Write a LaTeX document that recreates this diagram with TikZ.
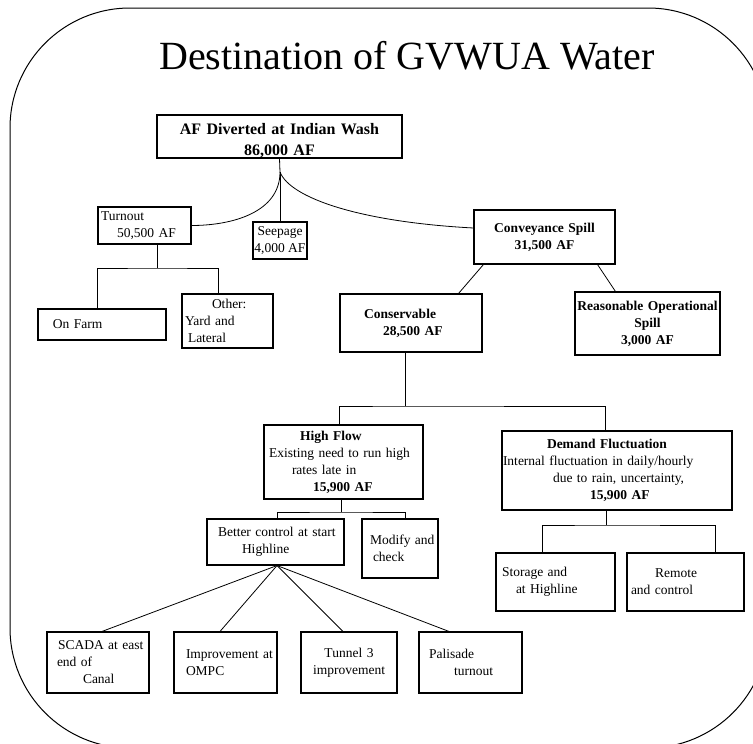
\documentclass[tikz,border=0pt]{standalone}
\usepackage{fontspec}
\setmainfont{Liberation Serif}

\tikzset{
	box/.style={draw, rectangle, line width=1.1pt, inner xsep=3pt, inner ysep=0pt, align=left, font=\fontsize{13.5}{17}\selectfont},
	boxc/.style={box, align=center},
	bbox/.style={box, font=\fontsize{13.5}{17}\selectfont\bfseries},
	link/.style={draw, line width=0.8pt},
	frame/.style={draw, line width=1pt, rounded corners=120pt}
}

\begin{document}
\begin{tikzpicture}[x=1pt,y=-1pt]
	\useasboundingbox (0,0) rectangle (753,744);
	\begin{scope}
		\clip (0,0) rectangle (753,744);
		\path[frame] (10,8) rectangle (768,748);
	\end{scope}
	
	\node[font=\fontsize{40}{48}\selectfont] (title) at (407,56) {Destination of GVWUA Water};
	
	% level 0
	\node[bbox, align=center, font=\fontsize{16}{21}\selectfont\bfseries, text width=239pt, minimum height=43pt] (top) at (279.5,136.5) {\rule{0pt}{19pt}AF Diverted at Indian Wash\\86,000 AF};
	
	% level 1
	\node[box, text width=87pt, minimum height=37pt] (turn) at (144.5,225.5) {Turnout\\\hspace*{16pt}50,500 AF};
	\node[boxc, inner xsep=1pt, minimum width=54pt, minimum height=37pt] (seep) at (280,240.5) {Seepage\\4,000 AF};
	\node[bbox, align=center, text width=135pt, minimum height=54pt] (conv) at (544.5,237) {Conveyance Spill\\31,500 AF};
	
	% level 2
	\node[box, text width=122pt, minimum height=31pt] (farm) at (102,324.5) {\hspace*{12pt}On Farm};
	\node[box, text width=85pt, minimum height=54pt] (other) at (227.5,321) {\hspace*{27pt}Other:\\Yard and\\\hspace*{3pt}Lateral};
	\node[bbox, text width=136pt, minimum height=58pt] (cons) at (411,323) {\hspace*{21pt}Conservable\\\hspace*{40pt}28,500 AF};
	\node[bbox, align=center, inner xsep=2pt, text width=141pt, minimum height=63pt] (rs) at (647.5,323.5) {Reasonable Operational\\Spill\\3,000 AF};
	
	% level 3
	\node[box, text width=153pt, minimum height=74pt] (hf) at (343.5,462) {\hspace*{33pt}\textbf{High Flow}\\\hspace*{2pt}Existing need to run high\\\hspace*{25pt}rates late in\\\hspace*{46pt}\textbf{15,900 AF}};
	\node[box, inner xsep=1pt, text width=228pt, minimum height=79pt] (df) at (617,470.5) {\hspace*{44pt}\textbf{Demand Fluctuation}\\Internal fluctuation in daily/hourly\\\hspace*{50pt}due to rain, uncertainty,\\\hspace*{87pt}\textbf{15,900 AF}};
	
	% level 4
	\node[box, text width=131pt, minimum height=46pt] (better) at (275.5,542) {\hspace*{8pt}Better control at start\\\hspace*{32pt}Highline};
	\node[box, text width=70pt, minimum height=59pt] (mod) at (400,548.5) {\hspace*{5pt}Modify and\\\hspace*{8pt}check};
	\node[box, text width=113pt, minimum height=58pt] (stor) at (555.5,582) {\hspace*{3pt}Storage and\\\hspace*{17pt}at Highline};
	\node[box, text width=111pt, minimum height=58pt] (rem) at (685.5,582) {\hspace*{25pt}Remote\\\hspace*{1pt}and control};
	
	% level 5
	\node[box, text width=96pt, minimum height=61pt] (scada) at (98,662.5) {\hspace*{8pt}SCADA at east\\\hspace*{7pt}end of\\\hspace*{33pt}Canal};
	\node[box, text width=97pt, minimum height=61pt] (impr) at (225.5,662.5) {\hspace*{9pt}Improvement at\\\hspace*{9pt}OMPC};
	\node[boxc, text width=90pt, minimum height=61pt] (tun) at (349,662.5) {Tunnel 3\\improvement};
	\node[box, text width=97pt, minimum height=61pt] (pal) at (470.5,662.5) {\hspace*{7pt}Palisade\\\hspace*{32pt}turnout};
	
	% branches
	\coordinate (split) at (280,172);
	\coordinate (tb) at (157,268);
	\coordinate (cb) at (405,406);
	\coordinate (hb) at (341,512);
	\coordinate (db) at (606,525);
	
	\path[link] (top.south) -- (split);
	\path[link] (split) to[out=-90,in=0] (turn.east);
	\path[link] (split) -- (seep.north);
	\path[link] (split) .. controls (290,198) and (360,222) .. ([yshift=9pt]conv.west);
	
	\path[link] ([xshift=12.5pt]turn.south) -- (tb);
	\path[link] ([xshift=-5pt]farm.north) |- (tb) -| ([xshift=-9.5pt]other.north);
	
	\path[link] ([xshift=10pt]conv.south west) -- ([xshift=-24pt]cons.north east);
	\path[link] ([xshift=-18pt]conv.south east) -- ([xshift=41pt]rs.north west);
	
	\path[link] ([xshift=-6pt]cons.south) -- (cb);
	\path[link] ([xshift=-4.5pt]hf.north) |- (cb) -| ([xshift=-12pt]df.north);
	
	\path[link] ([xshift=-2.5pt]hf.south) -- (hb);
	\path[link] ([xshift=1.5pt]better.north) |- (hb) -| ([xshift=5pt]mod.north);
	
	\path[link] ([xshift=-11pt]df.south) -- (db);
	\path[link] ([xshift=-13.5pt]stor.north) |- (db) -| ([xshift=29.5pt]rem.north);
	
	\path[link] ([xshift=1.5pt]better.south) -- ([xshift=4pt]scada.north);
	\path[link] ([xshift=1.5pt]better.south) -- ([xshift=-5.5pt]impr.north);
	\path[link] ([xshift=1.5pt]better.south) -- ([xshift=-6pt]tun.north);
	\path[link] ([xshift=1.5pt]better.south) -- ([xshift=-21.5pt]pal.north);
\end{tikzpicture}
\end{document}
